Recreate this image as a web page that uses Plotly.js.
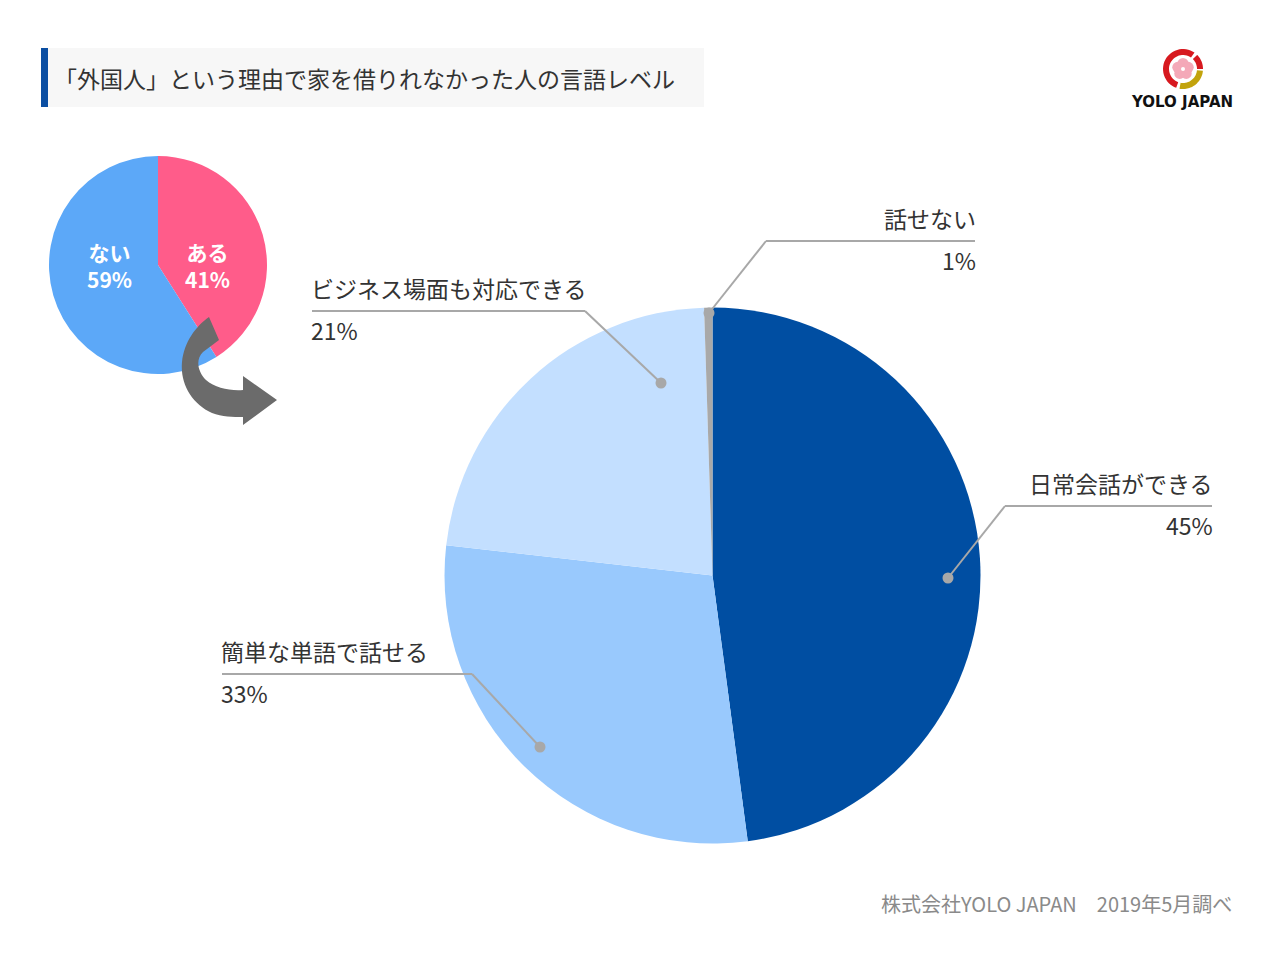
<!DOCTYPE html>
<html>
<head>
<meta charset="utf-8">
<script src="https://cdn.plot.ly/plotly-3.0.1.min.js"></script>
<style>html,body{margin:0;padding:0;background:#fff;}#chart{width:1278px;height:960px;}</style>
</head>
<body>
<div id="chart"></div>
<script>
// ---- data ----
const mainCategories = ["日常会話ができる", "簡単な単語で話せる", "ビジネス場面も対応できる", "話せない"];
const mainValues = [47.9, 28.9, 22.7, 0.5];          // slice sizes as drawn
const mainPercentText = ["45%", "33%", "21%", "1%"]; // printed labels
const mainColors = ["#004EA2", "#99C9FD", "#C3DFFF", "#A9A9A9"];

const subCategories = ["ある", "ない"];
const subValues = [41, 59];
const subPercentText = ["41%", "59%"];
const subColors = ["#FF5C8A", "#5CA8F8"];

const titleText = "「外国人」という理由で家を借りれなかった人の言語レベル";
const sourceText = "株式会社YOLO JAPAN　2019年5月調べ";
const logoText = "YOLO JAPAN";

// ---- layout helpers (positions in page pixels) ----
const W = 1278, H = 960;
function dom(cx, cy, r) {
  return { x: [(cx - r) / W, (cx + r) / W], y: [(H - cy - r) / H, (H - cy + r) / H] };
}
const FONT = "'Noto Sans CJK JP', 'Noto Sans', sans-serif";

// label placements
const labelPos = [
  { tx: 1215, anchor: "right", lx0: 1005, lx1: 1212, ly: 506, ex: 1005, dx: 948, dy: 578 },
  { tx: 219,  anchor: "left",  lx0: 222,  lx1: 472,  ly: 674, ex: 472,  dx: 540, dy: 747 },
  { tx: 309,  anchor: "left",  lx0: 312,  lx1: 585,  ly: 311, ex: 585,  dx: 661, dy: 383 },
  { tx: 978,  anchor: "right", lx0: 766,  lx1: 975,  ly: 241, ex: 766,  dx: 709, dy: 313 }
];

const traces = [
  {
    type: "pie", labels: mainCategories, values: mainValues, sort: false,
    direction: "clockwise", rotation: 0, textinfo: "none", hoverinfo: "label+percent",
    marker: { colors: mainColors, line: { width: 0 } },
    domain: dom(712.5, 575.5, 268)
  },
  {
    type: "pie", labels: subCategories, values: subValues, sort: false,
    direction: "clockwise", rotation: 0, textinfo: "none", hoverinfo: "label+percent",
    marker: { colors: subColors, line: { width: 0 } },
    domain: dom(158, 265, 109)
  },
  { type: "scatter", mode: "markers", x: [], y: [], hoverinfo: "skip" }
];

const shapes = [];
const annotations = [];

// title box
shapes.push({ type: "rect", xref: "x", yref: "y", x0: 41, x1: 704, y0: 48, y1: 107, fillcolor: "#F7F7F7", line: { width: 0 }, layer: "below" });
shapes.push({ type: "rect", xref: "x", yref: "y", x0: 41, x1: 48, y0: 48, y1: 107, fillcolor: "#0B4EA2", line: { width: 0 } });
annotations.push({ xref: "x", yref: "y", x: 52, y: 78, xanchor: "left", yanchor: "middle", showarrow: false,
  text: titleText, font: { family: FONT, size: 23, color: "#333333" } });

// leader lines + labels
labelPos.forEach((p, i) => {
  shapes.push({ type: "line", xref: "x", yref: "y", x0: p.lx0, x1: p.lx1, y0: p.ly, y1: p.ly, line: { color: "#A8A8A8", width: 2 } });
  shapes.push({ type: "line", xref: "x", yref: "y", x0: p.ex, x1: p.dx, y0: p.ly, y1: p.dy, line: { color: "#A8A8A8", width: 2 } });
  shapes.push({ type: "circle", xref: "x", yref: "y", x0: p.dx - 5.5, x1: p.dx + 5.5, y0: p.dy - 5.5, y1: p.dy + 5.5, fillcolor: "#A8A8A8", line: { width: 0 } });
  annotations.push({ xref: "x", yref: "y", x: p.tx, y: p.ly - 23, xanchor: p.anchor, yanchor: "middle", showarrow: false,
    text: mainCategories[i], font: { family: FONT, size: 23, color: "#333333" } });
  annotations.push({ xref: "x", yref: "y", x: p.tx, y: p.ly + 19, xanchor: p.anchor, yanchor: "middle", showarrow: false,
    text: mainPercentText[i], font: { family: FONT, size: 23, color: "#333333" } });
});

// small pie labels
const subLabelX = [207, 109];
subCategories.forEach((c, i) => {
  annotations.push({ xref: "x", yref: "y", x: subLabelX[i], y: 265, xanchor: "center", yanchor: "middle", showarrow: false,
    text: "<b>" + c + "</b><br><b>" + subPercentText[i] + "</b>", font: { family: FONT, size: 21, color: "#FFFFFF" } });
});

// curved arrow
shapes.push({ type: "path", xref: "x", yref: "y", fillcolor: "#6B6B6B", line: { width: 0 },
  path: "M209,317 C196,326 184,342 182,362 C180,384 192,404 212,413 C222,417 233,417 243,417 L243,425 L277,400 L243,376 L243,390 C230,391 215,388 206,380 C198,372 195,360 203,352 L219,340 Z" });

// logo
function ringPath(cx, cy, r1, r2, a0, a1) {
  const pts = [];
  const n = 30;
  for (let k = 0; k <= n; k++) { const a = (a0 + (a1 - a0) * k / n) * Math.PI / 180; pts.push([cx + r2 * Math.sin(a), cy - r2 * Math.cos(a)]); }
  for (let k = n; k >= 0; k--) { const a = (a0 + (a1 - a0) * k / n) * Math.PI / 180; pts.push([cx + r1 * Math.sin(a), cy - r1 * Math.cos(a)]); }
  return "M" + pts.map(p => p[0].toFixed(1) + "," + p[1].toFixed(1)).join(" L") + " Z";
}
const lcx = 1183, lcy = 69;
shapes.push({ type: "path", xref: "x", yref: "y", fillcolor: "#D7191F", line: { width: 0 }, path: ringPath(lcx, lcy, 14, 20, 200, 395) });
shapes.push({ type: "path", xref: "x", yref: "y", fillcolor: "#D7191F", line: { width: 0 }, path: ringPath(lcx, lcy, 14, 20, 405, 450) });
shapes.push({ type: "path", xref: "x", yref: "y", fillcolor: "#C2A30C", line: { width: 0 }, path: ringPath(lcx, lcy, 14, 20, 95, 190) });
for (let k = 0; k < 5; k++) {
  const a = k * 72 * Math.PI / 180;
  const px = lcx + 5.5 * Math.sin(a), py = lcy - 5.5 * Math.cos(a);
  shapes.push({ type: "circle", xref: "x", yref: "y", x0: px - 5.5, x1: px + 5.5, y0: py - 5.5, y1: py + 5.5, fillcolor: "#F4A9B8", line: { width: 0 } });
}
shapes.push({ type: "circle", xref: "x", yref: "y", x0: lcx - 2, x1: lcx + 2, y0: lcy - 2, y1: lcy + 2, fillcolor: "#FFFFFF", line: { width: 0 } });
annotations.push({ xref: "x", yref: "y", x: 1182, y: 102, xanchor: "center", yanchor: "middle", showarrow: false,
  text: "<b>" + logoText + "</b>", font: { family: "'DejaVu Sans', sans-serif", size: 15, color: "#111111" } });

// source
annotations.push({ xref: "x", yref: "y", x: 1234, y: 903, xanchor: "right", yanchor: "middle", showarrow: false,
  text: sourceText, font: { family: FONT, size: 20, color: "#8A8A8A" } });

const layout = {
  width: W, height: H, margin: { l: 0, r: 0, t: 0, b: 0 },
  paper_bgcolor: "#FFFFFF", plot_bgcolor: "rgba(0,0,0,0)", showlegend: false,
  xaxis: { range: [0, W], visible: false, fixedrange: true },
  yaxis: { range: [H, 0], visible: false, fixedrange: true },
  shapes: shapes, annotations: annotations
};
Plotly.newPlot("chart", traces, layout, { displayModeBar: false, staticPlot: true });
</script>
</body>
</html>
